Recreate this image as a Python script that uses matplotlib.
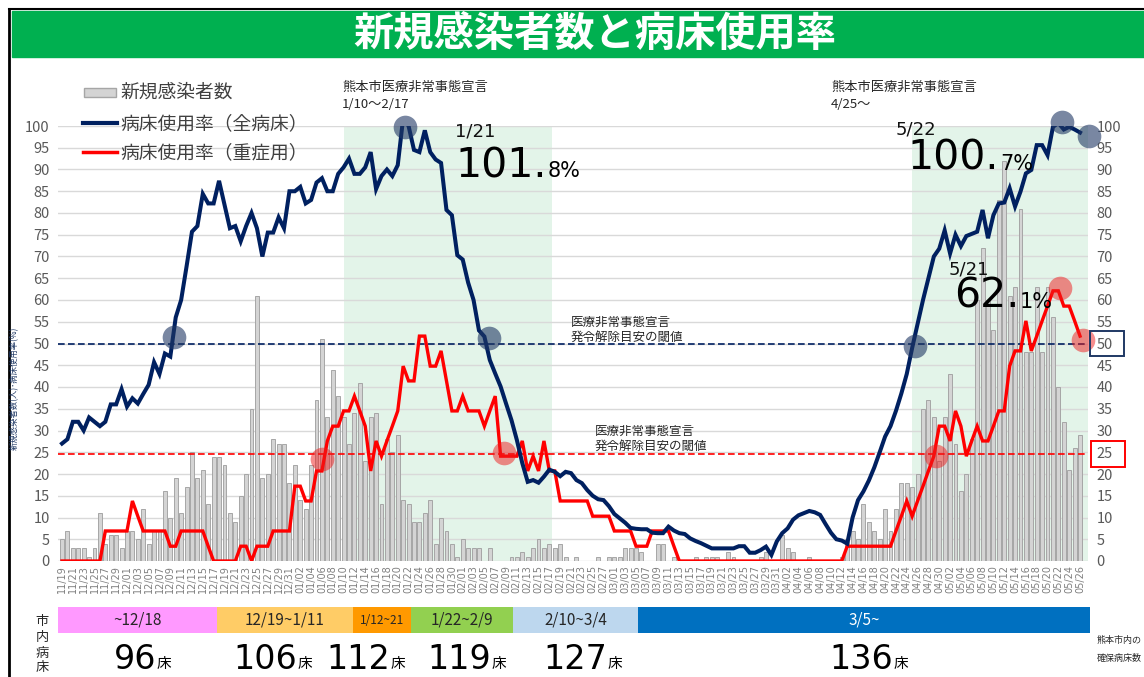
import numpy as np
import pandas as pd
import matplotlib
matplotlib.use('Agg')
import matplotlib.pyplot as plt
from matplotlib.patches import Rectangle

plt.rcParams['font.family'] = ['Noto Sans CJK JP', 'DejaVu Sans']

# ---------------- data ----------------
dates = pd.date_range('2020-11-19', '2021-05-26', freq='D')
date_labels = [d.strftime('%m/%d') for d in dates]

new_cases = [
    5, 7, 3, 3, 3, 1, 3, 11, 4, 6,
    6, 3, 7, 7, 5, 12, 4, 7, 7, 16,
    10, 19, 11, 17, 25, 19, 21, 13, 24, 24,
    22, 11, 9, 15, 20, 35, 61, 19, 20, 28,
    27, 27, 18, 22, 14, 12, 22, 37, 51, 33,
    44, 38, 33, 27, 34, 41, 23, 33, 34, 13,
    28, 25, 29, 14, 13, 9, 9, 11, 14, 4,
    10, 7, 4, 1, 5, 3, 3, 3, 0, 3,
    0, 0, 0, 1, 1, 2, 1, 3, 5, 3,
    4, 3, 4, 1, 0, 1, 0, 0, 0, 1,
    0, 1, 1, 1, 3, 3, 3, 2, 0, 0,
    4, 4, 0, 1, 0, 0, 0, 1, 0, 1,
    1, 1, 0, 2, 1, 0, 0, 0, 0, 1,
    2, 0, 0, 6, 3, 2, 0, 0, 1, 0,
    0, 0, 0, 0, 1, 5, 7, 5, 13, 9,
    7, 5, 12, 7, 12, 18, 18, 17, 20, 35,
    37, 33, 23, 33, 43, 27, 16, 20, 28, 60,
    72, 60, 53, 83, 92, 61, 63, 81, 48, 48,
    63, 48, 63, 56, 40, 32, 21, 26, 29,
]

bed_rate_all = [
    27, 28, 32, 32, 30, 33, 32, 31, 32, 36,
    36, 39.5, 35.5, 37.4, 36.2, 38.4, 40.5, 45.7, 43, 47.7,
    47, 56, 60, 67.7, 75.7, 77, 84.4, 82.2, 82.2, 87.4,
    82, 76.5, 77, 73.5, 77, 80, 76.5, 70, 75.5, 75.5,
    79, 76.5, 85, 85, 86, 82.2, 83, 87, 88, 85,
    85, 89, 90.5, 92.5, 89, 89, 90.5, 94, 85.5, 88.5,
    90, 88.5, 91, 101.8, 100, 94.5, 94, 99, 94, 92.3,
    91.5, 80.7, 79.5, 70.3, 69.3, 64, 60, 53, 51.6, 46.2,
    43.1, 40.1, 36.2, 32.4, 27.8, 22.5, 18.2, 18.6, 18, 19.4,
    21, 20.5, 19.5, 20.5, 20.2, 18.6, 17.9, 16.3, 15, 14.2,
    14, 12.6, 10.8, 9.8, 8.8, 7.6, 7.4, 7.3, 7.3, 6.5,
    6.4, 6.4, 7.9, 7, 6.4, 6.2, 5.2, 4.6, 4.1, 3.5,
    2.9, 2.9, 2.9, 2.9, 2.9, 3.4, 3.4, 1.9, 1.9, 2.5,
    3.3, 1.4, 4.5, 6.4, 7.5, 9.5, 10.5, 11, 11.5, 11.2,
    10.6, 8.5, 6.5, 5, 4.7, 4, 10, 14, 16, 18.5,
    21.5, 25, 28.6, 31, 34.5, 38.5, 43, 49, 54.5, 60,
    65, 70, 71.8, 76, 70.7, 75, 72.4, 74.7, 75.2, 75.7,
    80.7, 74.2, 79.5, 82.2, 82.4, 85.7, 81.5, 84.9, 89.1, 89.9,
    95.6, 95.6, 93.3, 99.8, 100.7, 99.2, 99.8, 99.2, 98.5,
]

bed_rate_severe = [
    0, 0, 0, 0, 0, 0, 0, 0, 6.9, 6.9,
    6.9, 6.9, 6.9, 13.8, 10.3, 6.9, 6.9, 6.9, 6.9, 6.9,
    3.4, 3.4, 6.9, 6.9, 6.9, 6.9, 6.9, 3.4, 0, 0,
    0, 0, 0, 3.4, 3.4, 0, 3.4, 3.4, 3.4, 6.9,
    6.9, 6.9, 6.9, 17.2, 17.2, 13.8, 13.8, 20.7, 20.7, 27.6,
    31, 31, 34.5, 34.5, 37.9, 34.5, 31, 20.7, 27.6, 24.1,
    27.6, 31, 34.5, 44.8, 41.4, 41.4, 51.7, 51.7, 44.8, 44.8,
    48.3, 41.4, 34.5, 34.5, 37.9, 34.5, 34.5, 34.5, 31, 34.5,
    37.9, 24.1, 24.1, 24.1, 24.1, 27.6, 20.7, 24.1, 20.7, 27.6,
    20.7, 20.7, 13.8, 13.8, 13.8, 13.8, 13.8, 13.8, 10.3, 10.3,
    10.3, 10.3, 6.9, 6.9, 6.9, 6.9, 3.4, 3.4, 3.4, 6.9,
    6.9, 6.9, 6.9, 3.4, 0, 0, 0, 0, 0, 0,
    0, 0, 0, 0, 0, 0, 0, 0, 0, 0,
    0, 0, 0, 0, 0, 0, 0, 0, 0, 0,
    0, 0, 0, 0, 0, 3.4, 3.4, 3.4, 3.4, 3.4,
    3.4, 3.4, 3.4, 3.4, 6.9, 10.3, 13.8, 10.3, 13.8, 17.2,
    20.7, 24.1, 31, 31, 27.6, 34.5, 31, 24.1, 27.6, 31,
    27.6, 27.6, 31, 34.5, 34.5, 44.8, 48.3, 48.3, 55.2, 48.3,
    51.7, 55.2, 58.6, 62.1, 62.1, 58.6, 58.6, 55.2, 51.7,
]

threshold_all = 50
threshold_severe = 24.6

# emergency-declaration periods (start index, end index)
emergency_periods = [(52, 90.5), (157, 189.5)]

# highlighted points (day index, value)
blue_hl_x = [20.7, 63.3, 78.9, 157.6, 184.7, 189.7]
blue_hl_y = [51.4, 99.8, 51.3, 49.4, 101, 97.7]
red_hl_x = [48.0, 81.6, 161.4, 184.3, 188.5]
red_hl_y = [23.4, 24.8, 24.1, 62.8, 50.8]

# bed-count periods
bed_periods = ['~12/18', '12/19~1/11', '1/12~21', '1/22~2/9', '2/10~3/4', '3/5~']
bed_counts = ['96', '106', '112', '119', '127', '136']
bed_colors = ['#ff99ff', '#ffcc66', '#ff9900', '#92d050', '#bdd7ee', '#0070c0']

NAVY = '#002060'
NUM_FONT = ['DejaVu Sans']

# ---------------- figure ----------------
W, H = 1144, 677
fig = plt.figure(figsize=(W / 100, H / 100), dpi=100)
ax = fig.add_axes([58 / W, 1 - 561 / H, (1088 - 58) / W, (561 - 126) / H])

x = np.arange(len(dates))
ax.set_xlim(-0.74, 189.47)
ax.set_ylim(0, 100)

for s, e in emergency_periods:
    ax.axvspan(s, e, color='#e3f4e9', zorder=0, lw=0)

ax.set_yticks(np.arange(0, 101, 5))
ax.yaxis.grid(True, color='#d9d9d9', lw=1.0)
ax.set_axisbelow(True)

ax.bar(x, new_cases, width=0.72, color='#d4d4d4', edgecolor='#a6a6a6', lw=0.7, zorder=2)

ax.axhline(threshold_all, color=NAVY, lw=1.2, ls=(0, (4, 2)), zorder=3)
ax.axhline(threshold_severe, color='#ff0000', lw=1.2, ls=(0, (4, 2)), zorder=3)

ax.plot(x, bed_rate_severe, color='#ff0000', lw=2.4, zorder=4, solid_joinstyle='miter')
ax.plot(x, bed_rate_all, color=NAVY, lw=2.9, zorder=4, solid_joinstyle='miter')

ax.scatter(blue_hl_x, blue_hl_y, s=290, color='#203864', alpha=0.6, lw=0,
           zorder=6, clip_on=False)
ax.scatter(red_hl_x, red_hl_y, s=290, color='#ee1c1c', alpha=0.5, lw=0,
           zorder=6, clip_on=False)

ax.set_xticks(x[::2])
ax.set_xticklabels(date_labels[::2], rotation=90, fontsize=7, color='#7f7f7f',
                   family=NUM_FONT)
ax.tick_params(axis='x', length=0, pad=3)
ax.tick_params(axis='y', length=0, labelsize=10.5, labelcolor='#595959',
               labelleft=True, labelright=True, pad=6)
for sp in ax.spines.values():
    sp.set_visible(False)

# ---------------- overlay (pixel coordinates) ----------------
ov = fig.add_axes([0, 0, 1, 1], zorder=10)
ov.set_xlim(0, W)
ov.set_ylim(H, 0)
ov.axis('off')
ov.patch.set_alpha(0)

# frame + banner
ov.plot([9, 9], [9, H], color='black', lw=2)
ov.plot([9, W], [9, 9], color='black', lw=1.5)
ov.add_patch(Rectangle((12, 11), W - 12, 46, color='#00b050'))
ov.text(595, 34, '新規感染者数と病床使用率', color='white', fontsize=29,
        fontweight='bold', ha='center', va='center')

# legend
ov.add_patch(Rectangle((84, 88), 32, 9, facecolor='#d4d4d4', edgecolor='#a6a6a6', lw=1))
ov.text(120, 92, '新規感染者数', fontsize=13.5, va='center', color='#404040')
ov.plot([83, 117], [123, 123], color=NAVY, lw=3)
ov.text(120, 124, '病床使用率（全病床）', fontsize=13.5, va='center', color='#404040')
ov.plot([83, 117], [152, 152], color='#ff0000', lw=2.5)
ov.text(120, 153, '病床使用率（重症用）', fontsize=13.5, va='center', color='#404040')

# y-axis title
ov.text(14, 388, '新規感染者数(人)･病床使用率(%)', rotation=90, fontsize=6,
        color='#1f3864', ha='center', va='center')

# emergency declaration notes
for xx, period in [(342, '1/10～2/17'), (831, '4/25～')]:
    ov.text(xx, 87, '熊本市医療非常事態宣言', fontsize=9.5, color='#262626', va='center')
    ov.text(xx, 105, period, fontsize=9.5, color='#262626', va='center')

# peak annotations: (date label, big part, small part, left x, label baseline, big baseline, split x)
peak_notes = [
    ('1/21', '101.', '8%', 455, 137, 177, 547),
    ('5/22', '100.', '7%', 896, 134, 170, 999),
    ('5/21', '62.', '1%', 949, 274, 308, 1019),
]
for lab, big, small, lx, lb, bb, sx in peak_notes:
    ov.text(lx, lb, lab, fontsize=13, va='baseline', color='#111111', family=NUM_FONT)
    ov.text(sx, bb, big, fontsize=29.5, ha='right', va='baseline', color='black',
            family=NUM_FONT)
    ov.text(sx + 1, bb, small, fontsize=15, ha='left', va='baseline', color='black',
            family=NUM_FONT)

# threshold labels
ov.text(571, 322, '医療非常事態宣言', fontsize=9, color='#262626', va='center')
ov.text(571, 337, '発令解除目安の閾値', fontsize=9, color='#262626', va='center')
ov.text(595, 431, '医療非常事態宣言', fontsize=9, color='#262626', va='center')
ov.text(595, 446, '発令解除目安の閾値', fontsize=9, color='#262626', va='center')

# boxes around right-axis 50 / 25
ov.add_patch(Rectangle((1090, 331), 34, 25, fill=False, edgecolor='#1f3864', lw=1.4))
ov.add_patch(Rectangle((1091, 441), 34, 26, fill=False, edgecolor='#ff0000', lw=1.4))

# bottom bed bands
band_edges = [58, 217, 353, 411, 513, 638, 1090]
bed_unit_x = [157, 298, 391, 492, 608, 894]
for k in range(len(bed_periods)):
    x0, x1 = band_edges[k], band_edges[k + 1]
    ov.add_patch(Rectangle((x0, 607), x1 - x0, 26, color=bed_colors[k], lw=0))
    ov.text((x0 + x1) / 2, 620, bed_periods[k],
            fontsize=8.5 if k == 2 else 11,
            color='white' if k == 5 else '#262626', ha='center', va='center')
    ov.text(bed_unit_x[k] - 1, 669, bed_counts[k], fontsize=24, ha='right',
            va='baseline', color='black', family=NUM_FONT)
    ov.text(bed_unit_x[k], 668, '床', fontsize=10.5, ha='left', va='baseline', color='black')

for ch, yy in zip('市内病床', [621, 637, 653, 668]):
    ov.text(42, yy, ch, fontsize=9.5, ha='center', va='center', color='#262626')

ov.text(1097, 641, '熊本市内の', fontsize=6.5, va='center', color='#262626')
ov.text(1097, 659, '確保病床数', fontsize=6.5, va='center', color='#262626')

fig.savefig('out.png', dpi=100)
